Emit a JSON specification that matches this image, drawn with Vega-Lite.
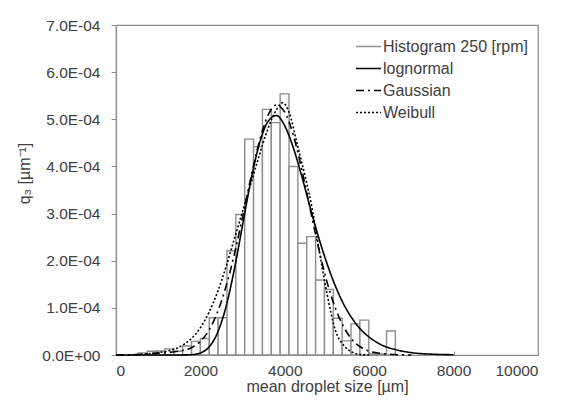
{
  "$schema": "https://vega.github.io/schema/vega-lite/v6.json",
  "width": 422,
  "height": 330,
  "autosize": {"type": "none"},
  "padding": {"left": 116, "top": 25, "right": 23, "bottom": 55},
  "background": "white",
  "config": {
    "font": "Liberation Sans",
    "view": {"stroke": "#8c8c8c", "strokeWidth": 1.2},
    "axis": {
      "grid": false,
      "domainColor": "#8c8c8c",
      "domainWidth": 1.2,
      "tickColor": "#8c8c8c",
      "labelColor": "#404040",
      "titleColor": "#404040",
      "labelFont": "Liberation Sans",
      "titleFont": "Liberation Sans",
      "labelFontSize": 15.5,
      "titleFontSize": 16,
      "titleFontWeight": "normal"
    },
    "legend": {
      "labelFont": "Liberation Sans",
      "labelFontSize": 16,
      "labelColor": "#404040"
    }
  },
  "datasets": {
    "hist": [
      {"start": 530, "end": 740, "q3": 4.5e-6, "series": "Histogram 250 [rpm]"},
      {"start": 740, "end": 950, "q3": 8e-6, "series": "Histogram 250 [rpm]"},
      {"start": 950, "end": 1160, "q3": 8.5e-6, "series": "Histogram 250 [rpm]"},
      {"start": 1160, "end": 1370, "q3": 1.3e-5, "series": "Histogram 250 [rpm]"},
      {"start": 1370, "end": 1580, "q3": 8e-6, "series": "Histogram 250 [rpm]"},
      {"start": 1580, "end": 1790, "q3": 1.9e-5, "series": "Histogram 250 [rpm]"},
      {"start": 1790, "end": 2000, "q3": 2.9e-5, "series": "Histogram 250 [rpm]"},
      {"start": 2000, "end": 2210, "q3": 3.5e-5, "series": "Histogram 250 [rpm]"},
      {"start": 2210, "end": 2420, "q3": 7.9e-5, "series": "Histogram 250 [rpm]"},
      {"start": 2420, "end": 2630, "q3": 7.9e-5, "series": "Histogram 250 [rpm]"},
      {"start": 2630, "end": 2840, "q3": 2.21e-4, "series": "Histogram 250 [rpm]"},
      {"start": 2840, "end": 3050, "q3": 2.98e-4, "series": "Histogram 250 [rpm]"},
      {"start": 3050, "end": 3260, "q3": 4.58e-4, "series": "Histogram 250 [rpm]"},
      {"start": 3260, "end": 3470, "q3": 4.42e-4, "series": "Histogram 250 [rpm]"},
      {"start": 3470, "end": 3680, "q3": 5.21e-4, "series": "Histogram 250 [rpm]"},
      {"start": 3680, "end": 3890, "q3": 4.93e-4, "series": "Histogram 250 [rpm]"},
      {"start": 3890, "end": 4100, "q3": 5.54e-4, "series": "Histogram 250 [rpm]"},
      {"start": 4100, "end": 4310, "q3": 4.0e-4, "series": "Histogram 250 [rpm]"},
      {"start": 4310, "end": 4520, "q3": 2.37e-4, "series": "Histogram 250 [rpm]"},
      {"start": 4520, "end": 4730, "q3": 2.51e-4, "series": "Histogram 250 [rpm]"},
      {"start": 4730, "end": 4940, "q3": 1.59e-4, "series": "Histogram 250 [rpm]"},
      {"start": 4940, "end": 5150, "q3": 1.39e-4, "series": "Histogram 250 [rpm]"},
      {"start": 5150, "end": 5360, "q3": 7.8e-5, "series": "Histogram 250 [rpm]"},
      {"start": 5360, "end": 5570, "q3": 3.0e-5, "series": "Histogram 250 [rpm]"},
      {"start": 5570, "end": 5780, "q3": 6.6e-5, "series": "Histogram 250 [rpm]"},
      {"start": 5780, "end": 5990, "q3": 7.4e-5, "series": "Histogram 250 [rpm]"},
      {"start": 5990, "end": 6200, "q3": 2e-6, "series": "Histogram 250 [rpm]"},
      {"start": 6200, "end": 6410, "q3": 2e-6, "series": "Histogram 250 [rpm]"},
      {"start": 6410, "end": 6620, "q3": 5.1e-5, "series": "Histogram 250 [rpm]"}
    ],
    "curves": [
      {"series": "lognormal", "size": 0, "q3": 0},
      {"series": "lognormal", "size": 1200, "q3": 0},
      {"series": "lognormal", "size": 1500, "q3": 1e-7},
      {"series": "lognormal", "size": 1800, "q3": 8e-7},
      {"series": "lognormal", "size": 2000, "q3": 4.4e-6},
      {"series": "lognormal", "size": 2200, "q3": 1.66e-5},
      {"series": "lognormal", "size": 2400, "q3": 4.6e-5},
      {"series": "lognormal", "size": 2600, "q3": 1.0e-4},
      {"series": "lognormal", "size": 2800, "q3": 1.8e-4},
      {"series": "lognormal", "size": 3000, "q3": 2.76e-4},
      {"series": "lognormal", "size": 3200, "q3": 3.72e-4},
      {"series": "lognormal", "size": 3400, "q3": 4.49e-4},
      {"series": "lognormal", "size": 3600, "q3": 4.95e-4},
      {"series": "lognormal", "size": 3800, "q3": 5.08e-4},
      {"series": "lognormal", "size": 4000, "q3": 4.86e-4},
      {"series": "lognormal", "size": 4200, "q3": 4.40e-4},
      {"series": "lognormal", "size": 4400, "q3": 3.80e-4},
      {"series": "lognormal", "size": 4600, "q3": 3.13e-4},
      {"series": "lognormal", "size": 4800, "q3": 2.50e-4},
      {"series": "lognormal", "size": 5000, "q3": 1.94e-4},
      {"series": "lognormal", "size": 5200, "q3": 1.46e-4},
      {"series": "lognormal", "size": 5400, "q3": 1.07e-4},
      {"series": "lognormal", "size": 5600, "q3": 7.7e-5},
      {"series": "lognormal", "size": 5800, "q3": 5.4e-5},
      {"series": "lognormal", "size": 6000, "q3": 3.8e-5},
      {"series": "lognormal", "size": 6300, "q3": 2.1e-5},
      {"series": "lognormal", "size": 6600, "q3": 1.2e-5},
      {"series": "lognormal", "size": 7000, "q3": 5e-6},
      {"series": "lognormal", "size": 7500, "q3": 1.7e-6},
      {"series": "lognormal", "size": 8000, "q3": 6e-7},
      {"series": "Gaussian", "size": 0, "q3": 0},
      {"series": "Gaussian", "size": 500, "q3": 1e-6},
      {"series": "Gaussian", "size": 800, "q3": 3e-6},
      {"series": "Gaussian", "size": 1000, "q3": 4e-6},
      {"series": "Gaussian", "size": 1200, "q3": 5e-6},
      {"series": "Gaussian", "size": 1400, "q3": 7e-6},
      {"series": "Gaussian", "size": 1600, "q3": 1.0e-5},
      {"series": "Gaussian", "size": 1800, "q3": 1.6e-5},
      {"series": "Gaussian", "size": 2000, "q3": 2.9e-5},
      {"series": "Gaussian", "size": 2200, "q3": 5.2e-5},
      {"series": "Gaussian", "size": 2400, "q3": 9.0e-5},
      {"series": "Gaussian", "size": 2600, "q3": 1.43e-4},
      {"series": "Gaussian", "size": 2800, "q3": 2.12e-4},
      {"series": "Gaussian", "size": 3000, "q3": 2.93e-4},
      {"series": "Gaussian", "size": 3200, "q3": 3.78e-4},
      {"series": "Gaussian", "size": 3400, "q3": 4.54e-4},
      {"series": "Gaussian", "size": 3600, "q3": 5.08e-4},
      {"series": "Gaussian", "size": 3800, "q3": 5.30e-4},
      {"series": "Gaussian", "size": 4000, "q3": 5.15e-4},
      {"series": "Gaussian", "size": 4200, "q3": 4.67e-4},
      {"series": "Gaussian", "size": 4400, "q3": 3.94e-4},
      {"series": "Gaussian", "size": 4600, "q3": 3.10e-4},
      {"series": "Gaussian", "size": 4800, "q3": 2.27e-4},
      {"series": "Gaussian", "size": 5000, "q3": 1.55e-4},
      {"series": "Gaussian", "size": 5200, "q3": 9.9e-5},
      {"series": "Gaussian", "size": 5400, "q3": 5.9e-5},
      {"series": "Gaussian", "size": 5600, "q3": 3.2e-5},
      {"series": "Gaussian", "size": 5800, "q3": 1.7e-5},
      {"series": "Gaussian", "size": 6000, "q3": 8e-6},
      {"series": "Gaussian", "size": 6300, "q3": 3e-6},
      {"series": "Gaussian", "size": 6600, "q3": 1e-6},
      {"series": "Gaussian", "size": 7000, "q3": 0},
      {"series": "Weibull", "size": 300, "q3": 0},
      {"series": "Weibull", "size": 500, "q3": 1e-6},
      {"series": "Weibull", "size": 800, "q3": 3e-6},
      {"series": "Weibull", "size": 1000, "q3": 5e-6},
      {"series": "Weibull", "size": 1200, "q3": 8e-6},
      {"series": "Weibull", "size": 1400, "q3": 1.3e-5},
      {"series": "Weibull", "size": 1600, "q3": 2.2e-5},
      {"series": "Weibull", "size": 1800, "q3": 3.6e-5},
      {"series": "Weibull", "size": 2000, "q3": 5.8e-5},
      {"series": "Weibull", "size": 2200, "q3": 9.0e-5},
      {"series": "Weibull", "size": 2400, "q3": 1.32e-4},
      {"series": "Weibull", "size": 2600, "q3": 1.85e-4},
      {"series": "Weibull", "size": 2800, "q3": 2.45e-4},
      {"series": "Weibull", "size": 3000, "q3": 3.05e-4},
      {"series": "Weibull", "size": 3200, "q3": 3.65e-4},
      {"series": "Weibull", "size": 3400, "q3": 4.25e-4},
      {"series": "Weibull", "size": 3600, "q3": 4.8e-4},
      {"series": "Weibull", "size": 3800, "q3": 5.2e-4},
      {"series": "Weibull", "size": 3950, "q3": 5.35e-4},
      {"series": "Weibull", "size": 4100, "q3": 5.15e-4},
      {"series": "Weibull", "size": 4300, "q3": 4.45e-4},
      {"series": "Weibull", "size": 4500, "q3": 3.72e-4},
      {"series": "Weibull", "size": 4650, "q3": 3.1e-4},
      {"series": "Weibull", "size": 4800, "q3": 2.3e-4},
      {"series": "Weibull", "size": 5000, "q3": 1.3e-4},
      {"series": "Weibull", "size": 5200, "q3": 5.2e-5},
      {"series": "Weibull", "size": 5400, "q3": 2.0e-5},
      {"series": "Weibull", "size": 5600, "q3": 6e-6},
      {"series": "Weibull", "size": 5800, "q3": 1e-6},
      {"series": "Weibull", "size": 6000, "q3": 0}
    ]
  },
  "encoding": {
    "x": {
      "type": "quantitative",
      "scale": {"domain": [0, 10000], "nice": false},
      "axis": {
        "title": "mean droplet size [µm]",
        "values": [0, 2000, 4000, 6000, 8000, 10000],
        "format": "d",
        "tickSize": -4,
        "labelPadding": 12,
        "titlePadding": 0
      }
    },
    "y": {
      "type": "quantitative",
      "scale": {"domain": [0, 0.0007], "nice": false},
      "axis": {
        "title": "q₃ [µm⁻¹]",
        "values": [0, 0.0001, 0.0002, 0.0003, 0.0004, 0.0005, 0.0006, 0.0007],
        "labelExpr": "datum.value == 0 ? '0.0E+00' : replace(format(datum.value, '.1e'), 'e-', 'E-0')",
        "tickSize": 5,
        "labelPadding": 11,
        "titlePadding": 9,
        "titleY": 148
      }
    },
    "stroke": {
      "field": "series",
      "type": "nominal",
      "scale": {
        "domain": ["Histogram 250 [rpm]", "lognormal", "Gaussian", "Weibull"],
        "range": ["#8c8c8c", "#000000", "#000000", "#000000"]
      },
      "legend": {
        "title": null,
        "orient": "none",
        "legendX": 239,
        "legendY": 8,
        "symbolType": "stroke",
        "symbolSize": 625,
        "symbolStrokeWidth": 1.6,
        "labelOffset": 1,
        "rowPadding": -3
      }
    },
    "strokeDash": {
      "field": "series",
      "type": "nominal",
      "scale": {
        "domain": ["Histogram 250 [rpm]", "lognormal", "Gaussian", "Weibull"],
        "range": [[1, 0], [1, 0], [8, 4, 2, 4], [2, 2]]
      },
      "legend": {
        "title": null,
        "orient": "none",
        "legendX": 239,
        "legendY": 8,
        "symbolType": "stroke",
        "symbolSize": 625,
        "symbolStrokeWidth": 1.6,
        "labelOffset": 1,
        "rowPadding": -3
      }
    }
  },
  "layer": [
    {
      "data": {"name": "hist"},
      "mark": {"type": "bar", "fill": "white", "strokeWidth": 1.4},
      "encoding": {
        "x": {"field": "start", "type": "quantitative"},
        "x2": {"field": "end"},
        "y": {"field": "q3", "type": "quantitative"},
        "y2": {"datum": 0}
      }
    },
    {
      "data": {"name": "curves"},
      "mark": {"type": "line", "strokeWidth": 1.6, "interpolate": "monotone"},
      "encoding": {
        "x": {"field": "size", "type": "quantitative"},
        "y": {"field": "q3", "type": "quantitative"}
      }
    }
  ]
}
